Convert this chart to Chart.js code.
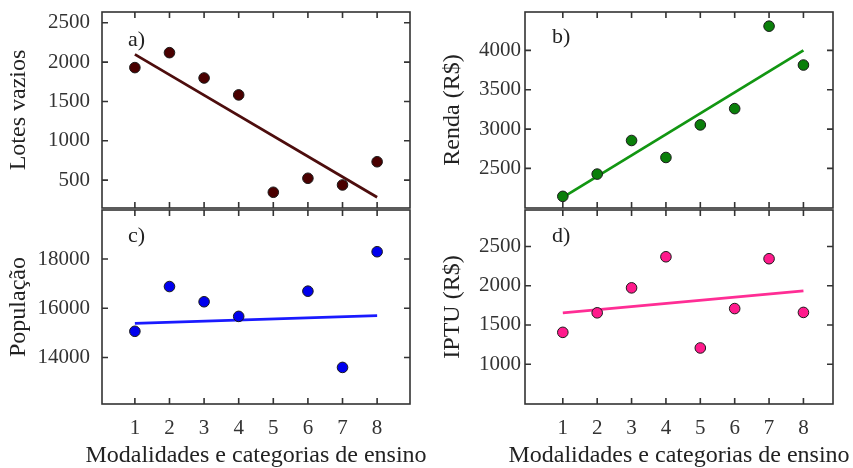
<!DOCTYPE html>
<html>
<head>
<meta charset="utf-8">
<script src="https://cdn.jsdelivr.net/npm/chart.js@4/dist/chart.umd.min.js"></script>
<style>
  body { margin: 0; background: #fff; }
  .painel { position: absolute; }
</style>
</head>
<body>
<div class="painel" style="left:0;top:0;width:430px;height:215px"><canvas id="graphA"></canvas></div>
<div class="painel" style="left:430px;top:0;width:423px;height:215px"><canvas id="graphB"></canvas></div>
<div class="painel" style="left:0;top:200px;width:430px;height:268px"><canvas id="graphC"></canvas></div>
<div class="painel" style="left:430px;top:200px;width:423px;height:268px"><canvas id="graphD"></canvas></div>
<script>
// eixo x: modalidades e categorias de ensino
const categorias = [1, 2, 3, 4, 5, 6, 7, 8];
const tituloX = 'Modalidades e categorias de ensino';

// valores
const lotesVazios = [1930, 2120, 1798, 1583, 345, 523, 438, 733];
const renda = [2145, 2428, 2855, 2639, 3053, 3260, 4308, 3814];
const populacao = [15063, 16881, 16263, 15669, null, 16693, 13596, 18295];
const iptu = [1406, 1655, 1973, 2369, 1207, 1709, 2344, 1660];

// retas de ajuste (extremos em x = 1 e x = 8)
const ajusteX = [1, 8];
const ajusteLotes = [2098, 282];
const ajusteRenda = [2132, 4000];
const ajustePopulacao = [15388, 15697];
const ajusteIptu = [1655, 1934];

// marcas dos eixos y
const ticksLotes = [500, 1000, 1500, 2000, 2500];
const ticksRenda = [2500, 3000, 3500, 4000];
const ticksPopulacao = [14000, 16000, 18000];
const ticksIptu = [1000, 1500, 2000, 2500];

const fonteTicks = { family: 'Liberation Serif', size: 21 };
const fonteTituloY = { family: 'Liberation Serif', size: 24, lineHeight: 1 };

// moldura com marcas para dentro, letra do painel e titulo do eixo x
// (o titulo vai aqui porque o do Chart.js fica comprimido na largura do eixo)
const molduraPlugin = {
  id: 'moldura',
  afterDatasetsDraw(chart, args, opts) {
    const { ctx, chartArea: a, scales } = chart;
    ctx.save();
    ctx.strokeStyle = '#333';
    ctx.lineWidth = 1.6;
    ctx.strokeRect(a.left, a.top, a.right - a.left, a.bottom - a.top);
    ctx.beginPath();
    categorias.forEach(v => {
      const px = scales.x.getPixelForValue(v);
      ctx.moveTo(px, a.top); ctx.lineTo(px, a.top + 6);
      ctx.moveTo(px, a.bottom); ctx.lineTo(px, a.bottom - 6);
    });
    scales.y.ticks.forEach(t => {
      const py = scales.y.getPixelForValue(t.value);
      ctx.moveTo(a.left, py); ctx.lineTo(a.left + 6, py);
      ctx.moveTo(a.right, py); ctx.lineTo(a.right - 6, py);
    });
    ctx.stroke();
    ctx.fillStyle = '#222';
    ctx.font = '22px "Liberation Serif"';
    ctx.textBaseline = 'middle';
    ctx.fillText(opts.letra, a.left + opts.dx, a.top + opts.dy);
    if (opts.comTitulo) {
      ctx.font = '24px "Liberation Serif"';
      ctx.textAlign = 'center';
      ctx.fillText(tituloX, (a.left + a.right) / 2, a.bottom + 51.5);
    }
    ctx.restore();
  }
};

const criaPainel = (id, p) => {
  const pontos = categorias
    .map((x, i) => ({ x: x, y: p.valores[i] }))
    .filter(d => d.y !== null);
  const reta = ajusteX.map((x, i) => ({ x: x, y: p.ajuste[i] }));

  return new Chart(document.getElementById(id).getContext('2d'), {
    type: 'scatter',
    data: {
      datasets: [{
        data: pontos,
        backgroundColor: p.corPonto,
        borderColor: '#1a1a1a',
        borderWidth: 1,
        pointRadius: 5.3,
        pointHoverRadius: 5.3
      }, {
        type: 'line',
        data: reta,
        borderColor: p.corReta,
        borderWidth: 2.8,
        pointRadius: 0,
        fill: false
      }]
    },
    options: {
      responsive: true,
      maintainAspectRatio: false,
      animation: false,
      events: [],
      layout: { padding: p.padding, autoPadding: false },
      plugins: {
        legend: { display: false },
        tooltip: { enabled: false },
        moldura: { letra: p.letra, dx: p.dx, dy: p.dy, comTitulo: p.mostraX }
      },
      scales: {
        x: {
          type: 'linear',
          display: p.mostraX,
          min: p.xMin,
          max: p.xMax,
          afterBuildTicks: s => { s.ticks = categorias.map(v => ({ value: v })); },
          afterFit: s => {
            s.height = p.mostraX ? 64 : 0;
            s.paddingLeft = 0; s.paddingRight = 0;
          },
          grid: { display: false, drawTicks: false },
          border: { display: false },
          ticks: { font: fonteTicks, color: '#333', padding: 12, maxRotation: 0, callback: v => String(v) }
        },
        y: {
          type: 'linear',
          min: p.yMin,
          max: p.yMax,
          afterBuildTicks: s => { s.ticks = p.yTicks.map(v => ({ value: v })); },
          afterFit: s => {
            s.width = p.larguraY;
            s.paddingTop = 0; s.paddingBottom = 0;
          },
          grid: { display: false, drawTicks: false },
          border: { display: false },
          ticks: { font: fonteTicks, color: '#333', padding: p.padTick, callback: v => String(v) },
          title: {
            display: true,
            text: p.titulo,
            font: fonteTituloY,
            color: '#222',
            padding: { top: p.padTitulo, bottom: 0 }
          }
        }
      }
    },
    plugins: [molduraPlugin]
  });
};

let graphA = criaPainel('graphA', {
  valores: lotesVazios, ajuste: ajusteLotes,
  corPonto: '#4a0000', corReta: '#4d0d0d',
  yMin: 145, yMax: 2637, yTicks: ticksLotes, titulo: 'Lotes vazios',
  xMin: 0.05, xMax: 8.95, mostraX: false,
  larguraY: 102, padTick: 12, padTitulo: 6.7,
  padding: { left: 0, right: 20, top: 12, bottom: 7 },
  letra: 'a)', dx: 26, dy: 28
});

let graphB = criaPainel('graphB', {
  valores: renda, ajuste: ajusteRenda,
  corPonto: '#0a7f0a', corReta: '#129612',
  yMin: 1997, yMax: 4488, yTicks: ticksRenda, titulo: 'Renda (R$)',
  xMin: -0.1, xMax: 8.86, mostraX: false,
  larguraY: 95, padTick: 4, padTitulo: 10.5,
  padding: { left: 0, right: 20, top: 12, bottom: 7 },
  letra: 'b)', dx: 27, dy: 25
});

let graphC = criaPainel('graphC', {
  valores: populacao, ajuste: ajustePopulacao,
  corPonto: '#0000ee', corReta: '#1a1aff',
  yMin: 12110, yMax: 19990, yTicks: ticksPopulacao, titulo: 'População',
  xMin: 0.05, xMax: 8.95, mostraX: true,
  larguraY: 102, padTick: 12, padTitulo: 6.7,
  padding: { left: 0, right: 20, top: 10, bottom: 0 },
  letra: 'c)', dx: 26, dy: 26
});

let graphD = criaPainel('graphD', {
  valores: iptu, ajuste: ajusteIptu,
  corPonto: '#ff1a8c', corReta: '#ff2d95',
  yMin: 493, yMax: 2965, yTicks: ticksIptu, titulo: 'IPTU (R$)',
  xMin: -0.1, xMax: 8.86, mostraX: true,
  larguraY: 95, padTick: 4, padTitulo: 10.5,
  padding: { left: 0, right: 20, top: 10, bottom: 0 },
  letra: 'd)', dx: 27, dy: 26
});
</script>
</body>
</html>
